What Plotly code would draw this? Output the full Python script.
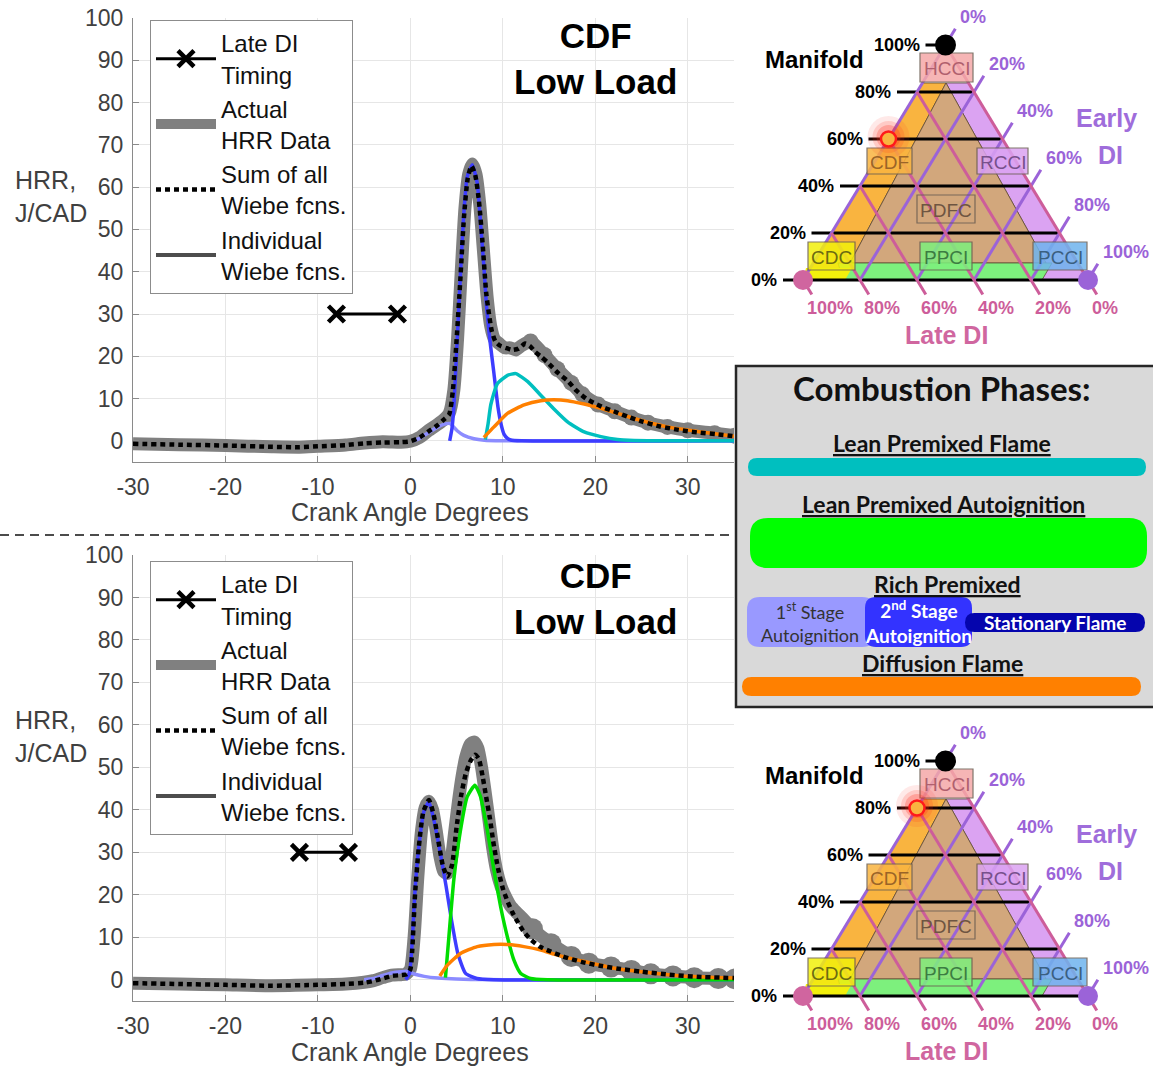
import math
import plotly.graph_objects as go

W, H = 1153, 1066
SANS = "Liberation Sans, Arial, Helvetica, sans-serif"
CALIBRI = "Lato, Carlito, Calibri, sans-serif"

# ---------------- heat-release-rate data (J/CAD vs crank angle) ----------------
CAD_TICKS = [-30, -20, -10, 0, 10, 20, 30]
HRR_TICKS = [0, 10, 20, 30, 40, 50, 60, 70, 80, 90, 100]
DI_LEVEL = 30

# upper panel
TOP_DI_CAD = [-8.0, -1.4]
TOP_DATA_CAD = [-30, -25, -20, -15, -12, -10, -7, -5, -3, -1, 0, 1, 2, 3, 3.6, 4.2, 4.7, 5.1, 5.5, 5.9,
                6.3, 6.7, 7.1, 7.5, 7.9, 8.3, 8.7, 9.1, 9.6, 10.2, 10.8, 11.4, 12.0, 13.0, 14.5, 15.9,
                17.4, 18.6, 20.3, 22.1, 23.9, 25.7, 27.8, 30.0, 32.9, 35.1]
TOP_DATA_HRR = [-0.7, -0.9, -1.1, -1.4, -1.5, -1.3, -1.0, -0.5, -0.2, -0.3, -0.1, 0.8, 2.5, 4.0, 5.0, 6.5,
                12, 24, 40, 55, 63, 65.5, 63, 56, 45, 34, 27, 24, 23, 22, 22, 21.5, 22.5, 23.5, 20.3,
                17.0, 13.7, 11.0, 8.6, 7.0, 5.5, 4.3, 3.3, 2.5, 1.8, 1.2]
TOP_SUM_CAD = [-30, -25, -20, -15, -12, -10, -7, -5, -3, -1, 0, 1, 2, 3, 3.6, 4.2, 4.6, 5.0, 5.4, 5.8,
               6.2, 6.6, 7.0, 7.4, 7.8, 8.2, 8.5, 8.8, 9.2, 9.7, 10.3, 11.0, 11.7, 12.4, 12.9, 13.5,
               14.2, 15.0, 16.0, 17.0, 18.0, 19.0, 20.0, 21.0, 22.0, 23.5, 25.0, 27.0, 29.0, 31.0,
               33.0, 35.0]
TOP_SUM_HRR = [-0.7, -0.9, -1.1, -1.4, -1.5, -1.3, -1.0, -0.6, -0.4, -0.3, -0.1, 0.8, 2.3, 3.8, 5.0, 6.3,
               12, 24, 38, 53, 62, 65, 63, 57, 47, 35, 30, 26, 23.5, 22.5, 22, 21.5, 21.8, 23, 22.5, 21,
               19.8, 18.2, 16, 14.2, 11.8, 10.0, 8.8, 7.8, 7.0, 5.7, 4.6, 3.4, 2.6, 2.0, 1.6, 1.1]
TOP_STAGE1_CAD = [0.3, 1, 2, 3, 3.6, 4.3, 4.7, 5.06, 5.78, 6.87, 8, 10, 15, 35]
TOP_STAGE1_HRR = [0, 0.6, 2.0, 3.3, 3.9, 4.1, 3.2, 2.4, 1.3, 0.5, 0.15, 0.03, 0, 0]
TOP_STAGE2_CAD = [4.25, 4.5, 4.7, 5.06, 5.42, 5.78, 6.15, 6.69, 7.23, 7.59, 7.95, 8.24, 8.6, 9.04, 9.47,
                  9.8, 10.12, 10.5, 10.85, 12, 35]
TOP_STAGE2_HRR = [0, 3, 8, 23.8, 39.6, 53.8, 62.5, 65.3, 61, 51.5, 41.2, 31.7, 23.8, 15.9, 8.0, 4.0,
                  1.6, 0.6, 0.2, 0, 0]
TOP_LPF_CAD = [8.1, 8.4, 8.7, 9.4, 10.5, 11.4, 12.7, 14.1, 15.5, 17.0, 18.8, 20.6, 22.4, 24.2, 27, 35]
TOP_LPF_HRR = [0.3, 4, 8.6, 13.5, 15.5, 15.9, 14, 10.8, 7.6, 4.5, 2.1, 1.0, 0.3, 0.1, 0, 0]
TOP_DIFF_CAD = [7.95, 9.04, 10.5, 12.3, 14.1, 15.5, 17.0, 18.8, 20.6, 22.4, 24.2, 27.8, 31.5, 35]
TOP_DIFF_HRR = [0.8, 3.3, 6.5, 8.5, 9.5, 9.7, 9.5, 8.7, 7.7, 6.5, 5.3, 3.3, 2.1, 1.1]

# lower panel
BOT_DI_CAD = [-12.0, -6.7]
BOT_DATA_CAD = [-30, -25, -20, -15, -10, -7, -5, -4, -3, -2, -1, -0.5, 0, 0.4, 0.8, 1.2, 1.6, 2.0, 2.4,
                2.8, 3.2, 3.6, 4.0, 4.4, 4.8, 5.2, 5.6, 6.0, 6.5, 6.9, 7.3, 7.7, 8.1, 8.5, 8.9, 9.3, 9.8,
                10.3, 10.8, 11.4, 12.1, 13.2, 15.2, 17.4, 19.3, 21.7, 23.9, 26.0, 28.4, 30.7, 33.3, 35.1]
BOT_DATA_HRR = [-0.8, -1.0, -1.2, -1.4, -1.2, -1.0, -0.6, -0.2, 0.5, 1.1, 1.2, 1.3, 2.5, 10, 24, 35,
                40.5, 42, 40, 35, 29, 25.5, 25, 28, 35, 42, 48, 52.5, 55.5, 56, 54.5, 50, 44, 37.5, 31,
                26, 22, 19.5, 17.5, 16, 14.5, 12, 8.5, 5.5, 3.9, 3.0, 2.2, 1.4, 0.9, 0.5, 0.3, 0.2]
BOT_SUM_CAD = [-30, -25, -20, -15, -10, -7, -5, -4, -3, -2, -1, -0.4, 0, 0.2, 0.5, 0.9, 1.4, 2.0, 2.5,
               3.0, 3.5, 4.0, 4.5, 5.0, 5.5, 6.0, 6.5, 7.0, 7.4, 7.8, 8.2, 8.6, 9.0, 9.5, 10.0, 10.5,
               11.0, 11.5, 12.2, 13.0, 14.0, 15.0, 16.5, 18.5, 20.5, 22.5, 25.0, 28.0, 31.0, 35.0]
BOT_SUM_HRR = [-0.8, -1.0, -1.2, -1.4, -1.2, -1.0, -0.7, -0.3, 0.3, 0.9, 1.1, 1.3, 2.5, 7, 20, 31, 39.5,
               42.3, 39, 33, 27, 24.3, 27, 36, 43.5, 48.6, 51.5, 53, 52, 48, 43, 38, 32, 26, 21.5, 18.5,
               16, 14, 11.5, 9.5, 7.8, 6.8, 5.5, 4.2, 3.3, 2.6, 1.9, 1.2, 0.7, 0.4]
BOT_STAGE1_CAD = [-5, -4, -3, -2, -1, -0.3, 0.5, 1.5, 3, 5, 8, 12, 35]
BOT_STAGE1_HRR = [0, 0.3, 1.0, 1.6, 1.9, 2.0, 1.3, 0.8, 0.4, 0.15, 0.05, 0, 0]
BOT_STAGE2_CAD = [-0.5, -0.1, 0.2, 0.5, 0.9, 1.45, 2.0, 2.5, 3.25, 3.87, 4.45, 5.13, 5.97, 7.2, 9, 35]
BOT_STAGE2_HRR = [0, 1.5, 9, 21, 31, 39.5, 41.9, 38, 29.7, 21.9, 14.0, 6.2, 1.5, 0.3, 0, 0]
BOT_LPA_CAD = [3.79, 4.16, 4.7, 5.42, 6.15, 6.98, 7.59, 8.32, 9.04, 9.76, 10.49, 11.2, 11.93, 13.0, 14.8, 35]
BOT_LPA_HRR = [0.5, 10, 23.6, 35.2, 43.1, 45.8, 43.1, 35.2, 25.8, 17.2, 10.1, 4.6, 1.5, 0.3, 0, 0]
BOT_DIFF_CAD = [3.18, 3.98, 5.42, 7.23, 9.04, 10.49, 12.29, 14.1, 15.9, 18.4, 22.06, 25.7, 29.3, 35]
BOT_DIFF_HRR = [0.9, 3.4, 6.2, 7.8, 8.3, 8.3, 7.8, 7.0, 5.8, 4.5, 2.7, 1.7, 0.9, 0.4]

# ---------------- ternary regime map ----------------
PCT_UP = ["0%", "20%", "40%", "60%", "80%", "100%"]
PCT_DOWN = ["100%", "80%", "60%", "40%", "20%", "0%"]
REGIMES = ["HCCI", "CDF", "RCCI", "PDFC", "CDC", "PPCI", "PCCI"]
OPERATING_MANIFOLD = [0.6, 0.8]   # upper map, lower map

# ---------------- combustion phase key ----------------
PHASE_TITLE = "Combustion Phases:"
PHASE_HEADINGS = ["Lean Premixed Flame", "Lean Premixed Autoignition", "Rich Premixed", "Diffusion Flame"]
RICH_STAGES = ["1<sup>st</sup> Stage<br>Autoignition", "2<sup>nd</sup> Stage<br>Autoignition",
               "Stationary Flame"]

# colours
GRAY = "#808080"
C_STAGE1 = "#8c8cff"
C_STAGE2 = "#3d3dff"
C_LPF = "#00bfbf"
C_LPA = "#00dd00"
C_DIFF = "#ff8000"
PURPLE = "#9b63d8"
PINK = "#cd5d9a"

fig = go.Figure()


def add_panel(xa, ya, leg, di_cad, data, total, parts, tail_size):
    d_cad, d_hrr = data
    grp = leg + "-data"
    fig.add_trace(go.Scatter(
        x=d_cad, y=d_hrr, xaxis=xa, yaxis=ya, mode="lines",
        line=dict(color=GRAY, width=13, shape="spline", smoothing=0.6),
        name="Actual<br>HRR Data", legend=leg, legendrank=2, legendgroup=grp, hoverinfo="skip"))
    tail = [(c, h) for c, h in zip(d_cad, d_hrr) if c >= 12.5]
    fig.add_trace(go.Scatter(
        x=[c for c, _ in tail], y=[h for _, h in tail], xaxis=xa, yaxis=ya, mode="markers",
        marker=dict(color=GRAY, size=tail_size), showlegend=False, legend=leg,
        legendgroup=grp, hoverinfo="skip"))
    for cad, hrr, color in parts:
        fig.add_trace(go.Scatter(
            x=cad, y=hrr, xaxis=xa, yaxis=ya, mode="lines",
            line=dict(color=color, width=3.5, shape="spline", smoothing=0.5),
            showlegend=False, legend=leg, legendgroup=leg + "-wiebe", hoverinfo="skip"))
    fig.add_trace(go.Scatter(
        x=total[0], y=total[1], xaxis=xa, yaxis=ya, mode="lines",
        line=dict(color="black", width=4.5, dash="5px,4px", shape="spline", smoothing=0.6),
        name="Sum of all<br>Wiebe fcns.", legend=leg, legendrank=3, hoverinfo="skip"))
    fig.add_trace(go.Scatter(
        x=di_cad, y=[DI_LEVEL] * len(di_cad), xaxis=xa, yaxis=ya, mode="lines+markers",
        line=dict(color="black", width=3),
        marker=dict(symbol="x-thin", size=16, color="black", line=dict(width=4.5, color="black")),
        name="Late DI<br>Timing", legend=leg, legendrank=1, hoverinfo="skip"))
    fig.add_trace(go.Scatter(
        x=[None], y=[None], xaxis=xa, yaxis=ya, mode="lines",
        line=dict(color="#4d4d4d", width=4),
        name="Individual<br>Wiebe fcns.", legend=leg, legendrank=4, legendgroup=leg + "-wiebe"))


add_panel("x", "y", "legend", TOP_DI_CAD, (TOP_DATA_CAD, TOP_DATA_HRR), (TOP_SUM_CAD, TOP_SUM_HRR),
          [(TOP_STAGE1_CAD, TOP_STAGE1_HRR, C_STAGE1),
           (TOP_STAGE2_CAD, TOP_STAGE2_HRR, C_STAGE2),
           (TOP_LPF_CAD, TOP_LPF_HRR, C_LPF),
           (TOP_DIFF_CAD, TOP_DIFF_HRR, C_DIFF)], 16)
add_panel("x2", "y2", "legend2", BOT_DI_CAD, (BOT_DATA_CAD, BOT_DATA_HRR), (BOT_SUM_CAD, BOT_SUM_HRR),
          [(BOT_STAGE1_CAD, BOT_STAGE1_HRR, C_STAGE1),
           (BOT_STAGE2_CAD, BOT_STAGE2_HRR, C_STAGE2),
           (BOT_LPA_CAD, BOT_LPA_HRR, C_LPA),
           (BOT_DIFF_CAD, BOT_DIFF_HRR, C_DIFF)], 21)

# ---------------- overlay (pixel) coordinates for the schematic parts ----------------
shapes = []
annotations = []


def sh(**kw):
    kw.setdefault("xref", "x3")
    kw.setdefault("yref", "y3")
    kw.setdefault("layer", "below")
    shapes.append(kw)


def txt(x, y, s, size, color="black", family=SANS, xanchor="center", yanchor="middle", align="center"):
    annotations.append(dict(x=x, y=y, xref="x3", yref="y3", text=s, showarrow=False,
                            xanchor=xanchor, yanchor=yanchor, align=align,
                            font=dict(family=family, size=size, color=color)))


def poly(pts, dy=0.0):
    return "M" + " L".join(f"{x:.1f},{y + dy:.1f}" for x, y in pts) + " Z"


def rounded(x0, y0, x1, y1, r):
    return (f"M{x0 + r},{y0} L{x1 - r},{y0} Q{x1},{y0} {x1},{y0 + r} L{x1},{y1 - r} "
            f"Q{x1},{y1} {x1 - r},{y1} L{x0 + r},{y1} Q{x0},{y1} {x0},{y1 - r} "
            f"L{x0},{y0 + r} Q{x0},{y0} {x0 + r},{y0} Z")


# separator between the two panels
sh(type="line", x0=0, x1=735, y0=535, y1=535, line=dict(color="#111111", width=1.5, dash="9px,6px"))

# axis titles and panel titles
for dy in (0, 540):
    txt(13, 196.5 + dy, "HRR,<br>J/CAD", 25, "#404040", xanchor="left", align="left")
    txt(410, 512 + dy, "Crank Angle Degrees", 25, "#404040")
    txt(595, 58.5 + dy, "<b>CDF<br>Low Load</b>", 35, "black")

# ---- ternary map geometry ----
TL, TR, TB, TT = 803.0, 1088.0, 280.0, 45.0
THALF = (TR - TL) / 2
THGT = TB - TT
SLEN = math.hypot(THALF, THGT)
UX, UY = THALF / SLEN, THGT / SLEN
FRACS = [0.0, 0.2, 0.4, 0.6, 0.8, 1.0]


def lvl(m):
    return TB - THGT * m


def lx(m):
    return TL + THALF * m


def rx(m):
    return TR - THALF * m


EDGE = "rgba(90,70,50,0.75)"
BOX_STYLE = {
    "HCCI": ((920, 53, 973, 82), "#f5a9a9", "#b0606e"),
    "CDF": ((867, 148, 912, 174), "#f9b440", "#9a6428"),
    "RCCI": ((977, 148, 1028, 174), "#dba3f2", "#77508c"),
    "PDFC": ((917, 195, 975, 223), "rgba(0,0,0,0)", "#6e5542"),
    "CDC": ((808, 242, 855, 270), "#f2f00c", "#6b6b12"),
    "PPCI": ((920, 242, 972, 270), "#7df07d", "#3c7c42"),
    "PCCI": ((1033, 242, 1087, 270), "#6fb4ee", "#3b5f80"),
}


def regime_map(dy):
    # coloured regime areas
    sh(type="path", path=poly([(TL, TB), (922, 83), (946, 83), (850, 263), (845, TB)], dy),
       fillcolor="#f9b440", line=dict(color=EDGE, width=1))
    sh(type="path", path=poly([(946, 83), (969, 83), (TR, TB), (1040, TB), (1046, 263)], dy),
       fillcolor="#dba3f2", line=dict(color=EDGE, width=1))
    sh(type="path", path=poly([(946, 83), (850, 263), (1046, 263)], dy),
       fillcolor="#d2a77c", line=dict(color=EDGE, width=1))
    sh(type="path", path=poly([(838, 263), (1052, 263), (1042, TB), (843, TB)], dy),
       fillcolor="#7df07d", line=dict(color=EDGE, width=1))
    sh(type="path", path=poly([(806, 268), (852, 268), (845, TB), (TL, TB)], dy),
       fillcolor="#f2f00c", line=dict(width=0))

    # manifold fraction (horizontal)
    for i, m in enumerate(FRACS):
        y = lvl(m) + dy
        sh(type="line", x0=lx(m) - 20, x1=rx(m), y0=y, y1=y, line=dict(color="black", width=3))
        txt(lx(m) - 24, y, f"<b>{PCT_UP[i]}</b>", 18, "black", xanchor="right")

    # early DI fraction (parallel to the left side)
    for i, e in enumerate(FRACS):
        x0, y0 = TL + 2 * THALF * e, TB + dy
        xt, yt = rx(1 - e), lvl(1 - e) + dy
        xe, ye = xt + 19 * UX, yt - 19 * UY
        sh(type="line", x0=x0, y0=y0, x1=xe, y1=ye, line=dict(color=PURPLE, width=3))
        txt(xe + 3, ye - 12, f"<b>{PCT_UP[i]}</b>", 18, PURPLE, xanchor="left")

    # late DI fraction (parallel to the right side)
    for i, f in enumerate(FRACS[::-1]):
        xb = TL + 2 * THALF * (1 - f)
        xs, ys = lx(1 - f), lvl(1 - f) + dy
        xe, ye = xb + 17 * UX, TB + 17 * UY + dy
        sh(type="line", x0=xs, y0=ys, x1=xe, y1=ye, line=dict(color=PINK, width=3))
        txt(xe - 7, 308 + dy, f"<b>{PCT_DOWN[i]}</b>", 18, PINK, xanchor="left")

    # regime boxes
    for name in REGIMES:
        (x0, y0, x1, y1), fill, tcol = BOX_STYLE[name]
        sh(type="rect", x0=x0, x1=x1, y0=y0 + dy, y1=y1 + dy, fillcolor=fill, opacity=0.85,
           line=dict(color="#6b5e52", width=1.2))
        txt((x0 + x1) / 2, (y0 + y1) / 2 + dy + 1, name, 19, tcol)

    # corner markers
    for (cx, cy, r, col) in [(lx(1), TT, 10.5, "black"), (TL, TB, 10, "#d0659f"), (TR, TB, 10, PURPLE)]:
        sh(type="circle", x0=cx - r, x1=cx + r, y0=cy - r + dy, y1=cy + r + dy,
           fillcolor=col, line=dict(width=0))

    txt(814, 59 + dy, "<b>Manifold</b>", 24, "black")
    txt(1106, 118 + dy, "<b>Early</b>", 25, "#9f6ddb")
    txt(1110, 155 + dy, "<b>DI</b>", 25, "#9f6ddb")
    txt(946, 335 + dy, "<b>Late DI</b>", 25, "#d0669f")


MAP_OFFSETS = [0, 716]
for dy in MAP_OFFSETS:
    regime_map(dy)

# operating points on the left side of each map (manifold share given above)
op_x = [lx(m) for m in OPERATING_MANIFOLD]
op_y = [lvl(m) + dy for m, dy in zip(OPERATING_MANIFOLD, MAP_OFFSETS)]
for x, y in zip(op_x, op_y):
    for r, a in [(21, 0.10), (16, 0.16), (12, 0.25)]:
        sh(type="circle", x0=x - r, x1=x + r, y0=y - r - 2, y1=y + r - 2,
           fillcolor="#ff2a1a", opacity=a, line=dict(width=0))
fig.add_trace(go.Scatter(
    x=op_x, y=op_y, xaxis="x3", yaxis="y3", mode="markers", showlegend=False, hoverinfo="skip",
    marker=dict(size=15, color="#f9b440", line=dict(color="#ff1a1a", width=2.5))))

# ---------------- combustion phase key ----------------
sh(type="rect", x0=736, x1=1165, y0=366, y1=707, fillcolor="#d9d9d9",
   line=dict(color="#262626", width=2.5))
txt(942, 388, f"<b>{PHASE_TITLE}</b>", 33, "#111111", CALIBRI)
sh(type="path", path=rounded(748, 458, 1146, 476, 9), fillcolor=C_LPF, line=dict(width=0))
sh(type="path", path=rounded(750, 518, 1147, 568, 18), fillcolor="#00ff00", line=dict(width=0))
sh(type="path", path=rounded(747, 597, 875, 647, 13), fillcolor="#9999ff", line=dict(width=0))
sh(type="path", path=rounded(865, 597, 972, 647, 11), fillcolor="#3333ff", line=dict(width=0))
sh(type="path", path=rounded(965, 613, 1145, 632, 9.5), fillcolor="#0505ad", line=dict(width=0))
sh(type="path", path=rounded(742, 677, 1141, 696, 9.5), fillcolor=C_DIFF, line=dict(width=0))
for (x, y), head in zip([(942, 443), (943, 504), (947, 584), (942, 663)], PHASE_HEADINGS):
    txt(x, y, f"<b><u>{head}</u></b>", 23, "#111111", CALIBRI)
txt(810, 622, RICH_STAGES[0], 18, "#333333", CALIBRI)
txt(918, 622, f"<b>{RICH_STAGES[1]}</b>", 19, "white", CALIBRI)
txt(1055, 622, f"<b>{RICH_STAGES[2]}</b>", 19, "white", CALIBRI)


# ---------------- layout ----------------
def axis(domain, rng, ticks, anchor, standoff):
    return dict(domain=domain, range=rng, tickvals=ticks, ticktext=[str(t) for t in ticks],
                anchor=anchor, showgrid=True,
                gridcolor="#e6e6e6", gridwidth=1, zeroline=False, showline=True,
                linecolor="#8a8a8a", linewidth=1, ticks="inside", ticklen=6, tickcolor="#8a8a8a",
                tickfont=dict(family=SANS, size=23, color="#404040"), ticklabelstandoff=standoff,
                automargin=False, fixedrange=True)


XDOM = [133 / W, 734 / W]
legend_common = dict(xanchor="left", yanchor="top", bgcolor="white", bordercolor="#8c8c8c",
                     borderwidth=1, itemwidth=60, font=dict(family=SANS, size=24, color="#111111"),
                     tracegroupgap=0)

fig.update_layout(
    width=W, height=H, margin=dict(l=0, r=0, t=0, b=0, pad=0, autoexpand=False),
    paper_bgcolor="white", plot_bgcolor="rgba(0,0,0,0)",
    xaxis=axis(XDOM, [-30, 35], CAD_TICKS, "y", 4),
    yaxis=axis([1 - 462 / H, 1 - 18 / H], [-5, 100], HRR_TICKS, "x", 4),
    xaxis2=axis(XDOM, [-30, 35], CAD_TICKS, "y2", 4),
    yaxis2=axis([1 - 1001 / H, 1 - 555 / H], [-5, 100], HRR_TICKS, "x2", 4),
    xaxis3=dict(domain=[0, 1], range=[0, W], visible=False, fixedrange=True, anchor="y3",
                automargin=False),
    yaxis3=dict(domain=[0, 1], range=[H, 0], visible=False, fixedrange=True, anchor="x3",
                automargin=False),
    legend=dict(x=150 / W, y=1 - 20 / H, **legend_common),
    legend2=dict(x=150 / W, y=1 - 561 / H, **legend_common),
    shapes=shapes,
    annotations=annotations,
    hovermode=False,
)

fig.write_html("out.html")
